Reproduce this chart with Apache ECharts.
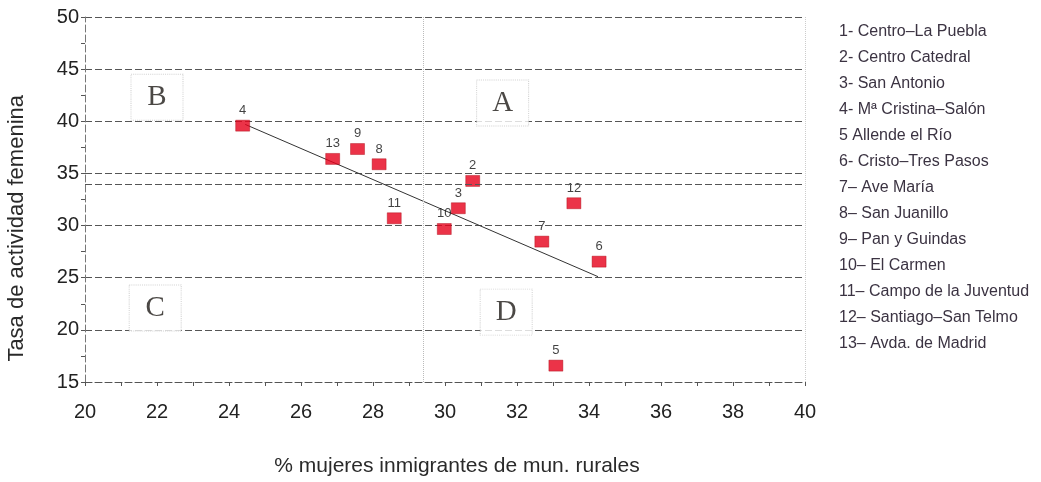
<!DOCTYPE html>
<html>
<head>
<meta charset="utf-8">
<script src="https://cdn.jsdelivr.net/npm/echarts@6/dist/echarts.min.js"></script>
<style>
html,body{margin:0;padding:0;background:#fff;}
#chart{width:1041px;height:482px;}
</style>
</head>
<body>
<div id="chart"></div>
<script>
// ---- data ----
const pointIds = ['2','3','4','5','6','7','8','9','10','11','12','13'];
const pointX = [30.77, 30.37, 24.38, 33.08, 34.28, 32.69, 28.17, 27.57, 29.98, 28.59, 33.58, 26.88];
const pointY = [34.28, 31.66, 39.58, 16.57, 26.54, 28.46, 35.88, 37.34, 29.67, 30.70, 32.14, 36.39];
const trendX = [24.45, 34.25];
const trendY = [39.7, 25.1];
const quadLetters = ['B', 'A', 'C', 'D'];
const quadX = [22.0, 31.6, 21.95, 31.7];
const quadY = [42.3, 41.75, 22.1, 21.7];
const quadDividerX = 29.4;
const quadDividerY = 34.0;
const legendLines = [
  '1- Centro\u2013La Puebla',
  '2- Centro Catedral',
  '3- San Antonio',
  '4- M\u00aa Cristina\u2013Sal\u00f3n',
  '5 Allende el R\u00edo',
  '6- Cristo\u2013Tres Pasos',
  '7\u2013 Ave Mar\u00eda',
  '8\u2013 San Juanillo',
  '9\u2013 Pan y Guindas',
  '10\u2013 El Carmen',
  '11\u2013 Campo de la Juventud',
  '12\u2013 Santiago\u2013San Telmo',
  '13\u2013 Avda. de Madrid'
];
const xTitle = '% mujeres inmigrantes de mun. rurales';
const yTitle = 'Tasa de actividad femenina';

const sans = '"Liberation Sans", Arial, sans-serif';
const gridDash = [7, 3];

const chart = echarts.init(document.getElementById('chart'));
chart.setOption({
  animation: false,
  backgroundColor: '#fff',
  grid: {left: 85, right: 236, top: 17, bottom: 100},
  title: {
    text: legendLines.join('\n'),
    left: 834, top: 14,
    textStyle: {fontFamily: sans, fontSize: 16, fontWeight: 'normal', color: '#3b3342', lineHeight: 26}
  },
  graphic: [{
    type: 'text', left: 6, top: 95, rotation: Math.PI / 2,
    style: {text: yTitle, font: '22px ' + sans, fill: '#2a2a2a'}
  }],
  xAxis: {
    type: 'value', min: 20, max: 40, interval: 2,
    name: xTitle, nameLocation: 'middle', nameGap: 74,
    nameTextStyle: {fontFamily: sans, fontSize: 21, color: '#2a2a2a', padding: [0, 0, 0, 24]},
    axisLine: {show: true, lineStyle: {color: '#555', type: gridDash}},
    axisTick: {show: true, length: 4, lineStyle: {color: '#555'}},
    minorTick: {show: true, splitNumber: 2, length: 4, lineStyle: {color: '#555'}},
    axisLabel: {fontFamily: sans, fontSize: 20, color: '#222', margin: 20},
    splitLine: {show: false}
  },
  yAxis: {
    type: 'value', min: 15, max: 50, interval: 5,
    axisLine: {show: true, lineStyle: {color: '#777', type: gridDash}},
    axisTick: {show: true, length: 4, lineStyle: {color: '#555'}},
    minorTick: {show: true, splitNumber: 2, length: 4, lineStyle: {color: '#555'}},
    axisLabel: {fontFamily: sans, fontSize: 20, color: '#222', margin: 6},
    splitLine: {show: true, lineStyle: {color: '#555', type: gridDash, width: 1}}
  },
  series: [
    {
      type: 'line',
      data: trendX.map((x, i) => [x, trendY[i]]),
      symbol: 'none',
      lineStyle: {color: '#333', width: 1},
      silent: true, z: 2,
      markLine: {
        silent: true, symbol: 'none', label: {show: false},
        data: [
          {xAxis: quadDividerX, lineStyle: {color: '#bbb', type: 'dotted', width: 1}},
          {xAxis: 40, lineStyle: {color: '#ccc', type: 'dotted', width: 1}},
          {yAxis: quadDividerY, lineStyle: {color: '#555', type: gridDash, width: 1}}
        ]
      }
    },
    {
      type: 'scatter',
      data: quadX.map((x, i) => ({value: [x, quadY[i]], name: quadLetters[i]})),
      symbol: 'rect', symbolSize: [52, 46],
      itemStyle: {color: '#fff', borderColor: '#c8c8c8', borderType: 'dotted', borderWidth: 1},
      label: {show: true, position: 'inside', formatter: p => p.name,
        fontFamily: '"Liberation Serif", "DejaVu Serif", serif', fontSize: 29, color: '#1e1a16'},
      silent: true, z: 1
    },
    {
      type: 'scatter',
      data: pointX.map((x, i) => ({value: [x, pointY[i]], name: pointIds[i]})),
      symbol: 'rect', symbolSize: [14, 11],
      itemStyle: {color: '#e6001a', borderColor: '#a8000f', borderWidth: 0.5},
      label: {show: true, position: 'top', distance: 3, formatter: p => p.name,
        fontFamily: sans, fontSize: 13, color: '#111'},
      z: 3
    }
  ]
});
</script>
</body>
</html>
